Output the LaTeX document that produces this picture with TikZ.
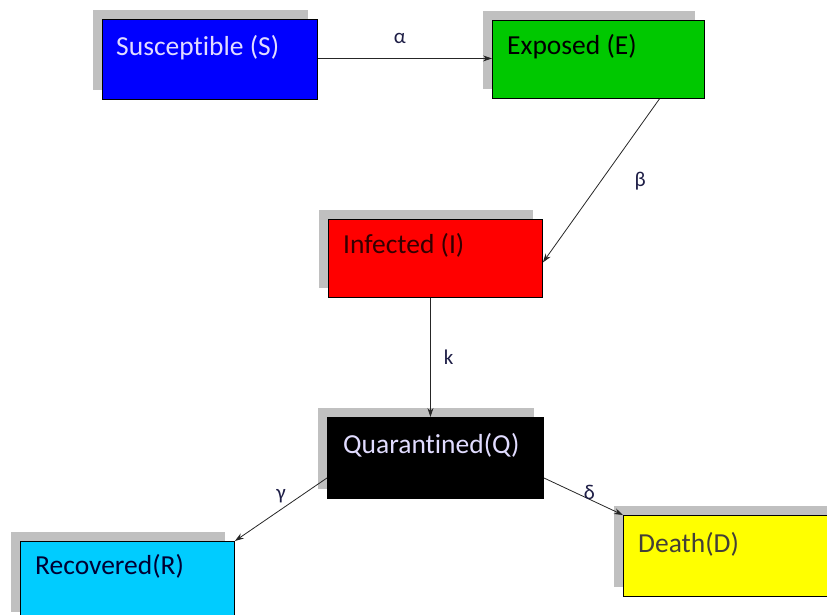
\documentclass[tikz,border=0pt]{standalone}
\usepackage{fontspec}
\setmainfont{Carlito}[Ligatures=NoCommon]
\usetikzlibrary{arrows.meta,shadows}

\definecolor{sblue}{RGB}{0,0,255}
\definecolor{egreen}{RGB}{0,200,0}
\definecolor{ired}{RGB}{255,0,0}
\definecolor{rcyan}{RGB}{0,204,255}
\definecolor{dyellow}{RGB}{255,255,0}
\definecolor{shadowgray}{RGB}{192,192,192}
\definecolor{lighttext}{RGB}{225,220,255}
\definecolor{greektext}{RGB}{30,30,70}

\begin{document}
\begin{tikzpicture}[x=1pt,y=-1pt,
    compartment/.style={draw=black, line width=0.9pt, rectangle, anchor=north west,
        minimum width=215pt, minimum height=80pt, inner sep=0pt,
        drop shadow={fill=shadowgray, opacity=1, shadow xshift=-9pt, shadow yshift=9pt}},
    boxtext/.style={anchor=base west, inner sep=0pt, font=\fontsize{27.5}{32}\selectfont},
    rate/.style={font=\fontsize{21}{24}\selectfont, text=greektext, inner sep=1pt},
    flow/.style={draw=black!85, line width=0.8pt, -{Stealth[length=9pt,width=6pt]}}]
    \useasboundingbox (0,0) rectangle (827,614);

    % compartments
    \node[compartment, fill=sblue] (S) at (102,19) {};
    \node[compartment, fill=egreen, minimum width=212pt, minimum height=78pt] (E) at (492,20) {};
    \node[compartment, fill=ired, minimum width=214pt, minimum height=78pt] (I) at (328,219) {};
    \node[compartment, fill=black, minimum width=216pt, minimum height=81pt] (Q) at (327,417) {};
    \node[compartment, fill=rcyan, minimum width=214pt] (R) at (20,541) {};
    \node[compartment, fill=dyellow, minimum width=215pt, minimum height=81pt] (D) at (623,515) {};

    % names
    \node[boxtext, text=lighttext] (Stxt) at ([xshift=14pt,yshift=-36pt]S.north west) {Susceptible (S)};
    \node[boxtext] (Etxt) at ([xshift=15pt,yshift=-34pt]E.north west) {Exposed (E)};
    \node[boxtext, text=black!80!red] (Itxt) at ([xshift=15pt,yshift=-34pt]I.north west) {Infected (I)};
    \node[boxtext, text=lighttext] (Qtxt) at ([xshift=16pt,yshift=-36pt]Q.north west) {Quarantined(Q)};
    \node[boxtext, text=black!80!blue] (Rtxt) at ([xshift=15pt,yshift=-33pt]R.north west) {Recovered(R)};
    \node[boxtext, text=black!85!yellow] (Dtxt) at ([xshift=15pt,yshift=-37pt]D.north west) {Death(D)};

    % transitions
    \draw[flow] ([yshift=1pt]S.east) -- node[rate, midway, above=13pt, xshift=-5pt] (alpha) {α} ([yshift=1pt]E.west);
    \draw[flow] ([xshift=61pt]E.south) -- node[rate, midway, right=32pt] (beta) {β} ([yshift=-4pt]I.east);
    \draw[flow] ([xshift=-5pt]I.south) -- node[rate, midway, right=12pt] (kk) {k} ([xshift=-5pt]Q.north);
    \draw[flow] ([yshift=-20pt]Q.west) -- node[rate, midway, above=5pt] (gamma) {γ} (R.north east);
    \draw[flow] ([yshift=-20pt]Q.east) -- node[rate, midway, xshift=6pt, yshift=4pt] (delta) {δ} (D.north west);
\end{tikzpicture}
\end{document}
